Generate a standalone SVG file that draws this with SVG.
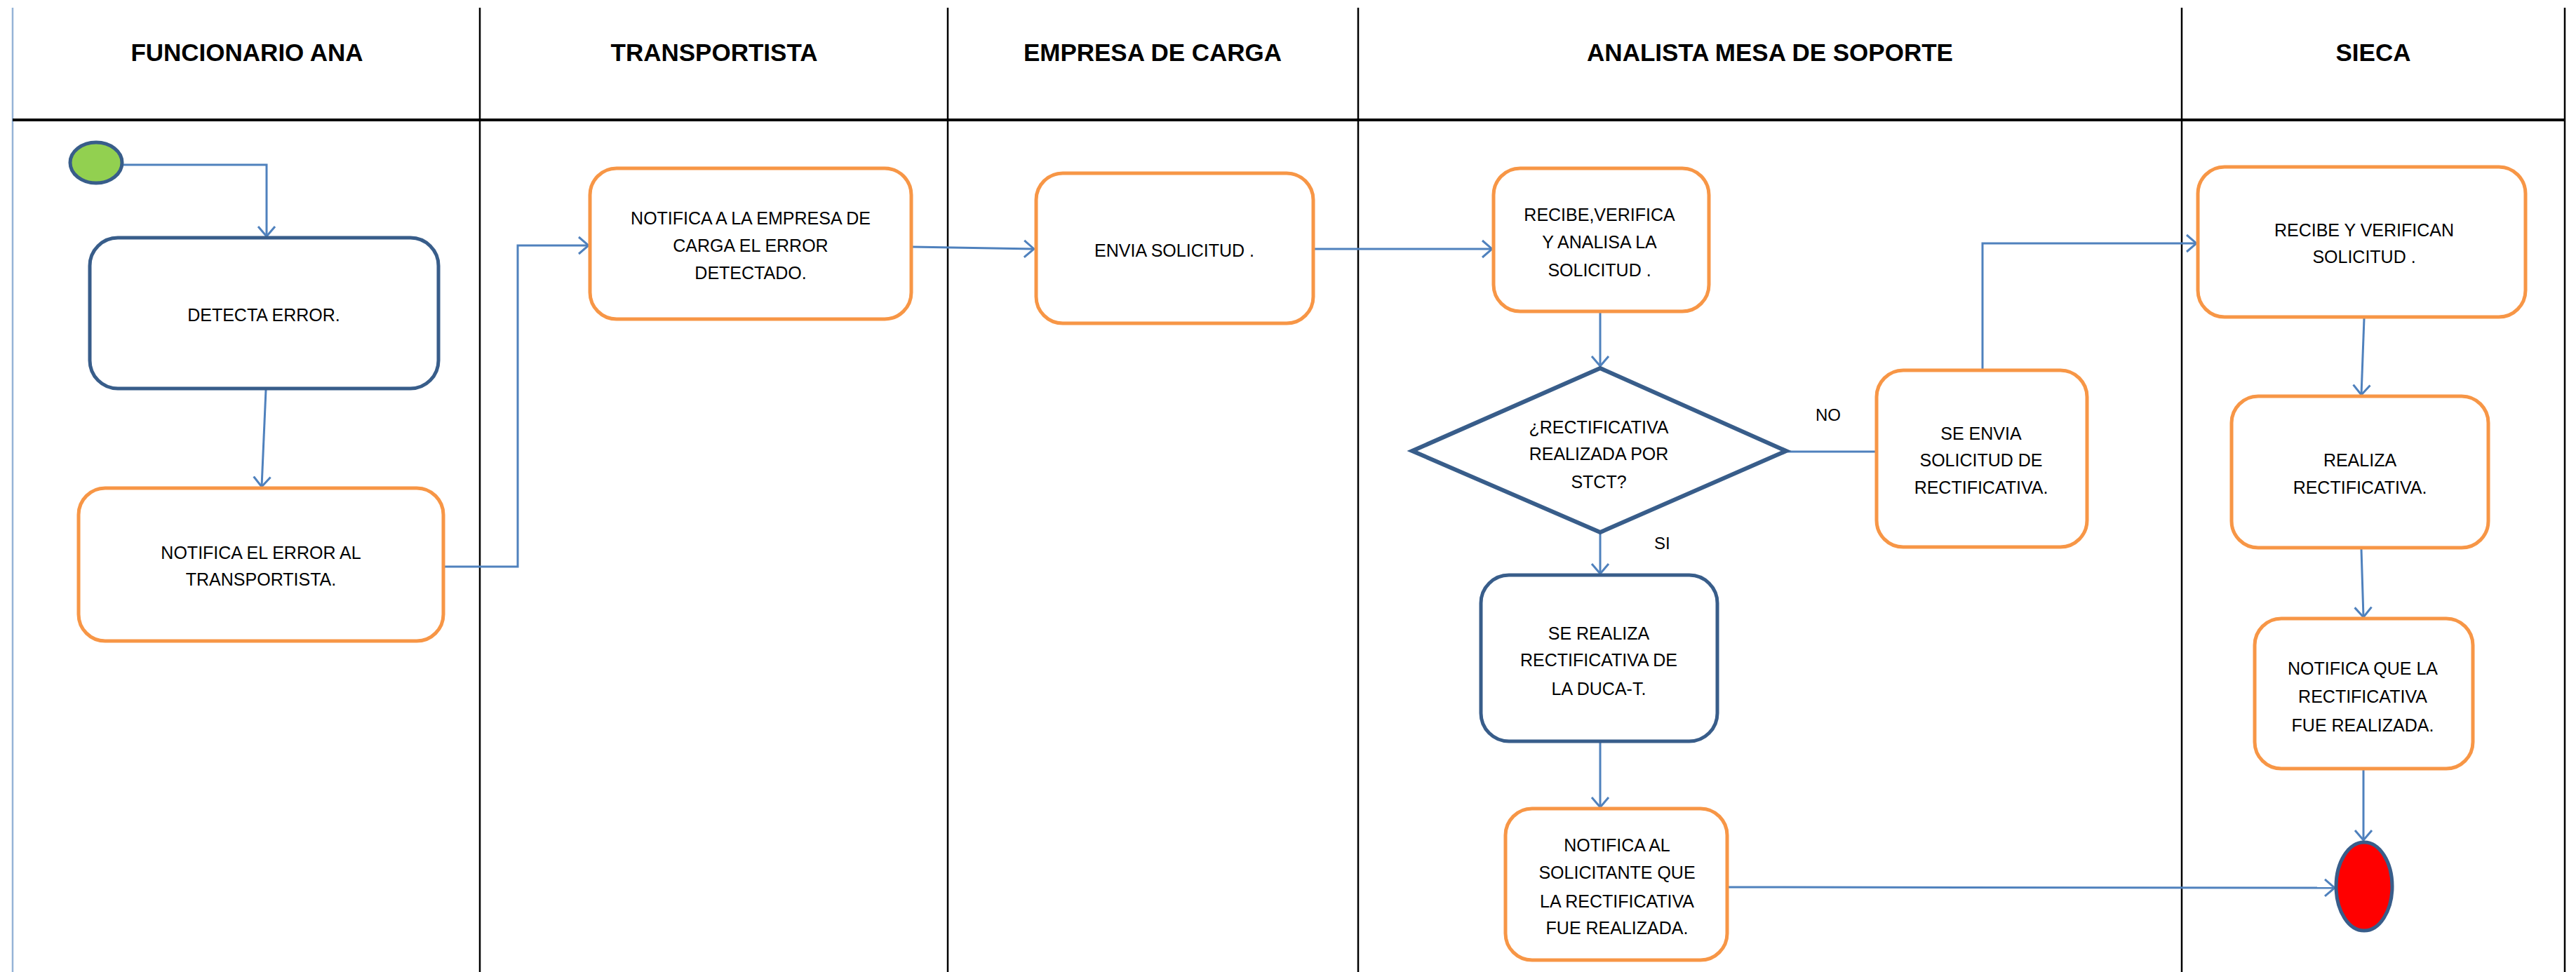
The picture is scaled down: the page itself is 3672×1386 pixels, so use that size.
<svg xmlns="http://www.w3.org/2000/svg" width="3672" height="1386" viewBox="0 0 3672 1386">
<defs>
<style>
.lane{stroke:#000;stroke-width:2.5;fill:none}
.hdr{font-family:"Liberation Sans",Arial,sans-serif;font-weight:bold;font-size:35px;fill:#000;text-anchor:middle}
.txt{font-family:"Liberation Sans",Arial,sans-serif;font-size:25px;fill:#000;text-anchor:middle}
.lbl{font-family:"Liberation Sans",Arial,sans-serif;font-size:24px;fill:#000}
.org{fill:#fff;stroke:#F79646;stroke-width:5}
.nav{fill:#fff;stroke:#385D8A;stroke-width:5}
.con{fill:none;stroke:#4F81BD;stroke-width:3}
</style>
<marker id="arr" viewBox="0 0 16 28" markerWidth="16" markerHeight="28" refX="15" refY="14" orient="auto" markerUnits="userSpaceOnUse">
<path d="M1,2 L15,14 L1,26" fill="none" stroke="#4F81BD" stroke-width="3"/>
</marker>
</defs>
<rect width="3672" height="1386" fill="#fff"/>
<g id="swimlanes">
<line x1="18" y1="11" x2="18" y2="1386" stroke="#95B3D7" stroke-width="2.5"/>
<line class="lane" x1="684" y1="11" x2="684" y2="1386"/>
<line class="lane" x1="1351" y1="11" x2="1351" y2="1386"/>
<line class="lane" x1="1936" y1="11" x2="1936" y2="1386"/>
<line class="lane" x1="3110" y1="11" x2="3110" y2="1386"/>
<line class="lane" x1="3656" y1="11" x2="3656" y2="1386"/>
<line x1="18" y1="171" x2="3656" y2="171" stroke="#000" stroke-width="4"/>
<text class="hdr" x="352" y="87">FUNCIONARIO ANA</text>
<text class="hdr" x="1018" y="87">TRANSPORTISTA</text>
<text class="hdr" x="1643" y="87">EMPRESA DE CARGA</text>
<text class="hdr" x="2523" y="87">ANALISTA MESA DE SOPORTE</text>
<text class="hdr" x="3383" y="87">SIECA</text>
</g>
<g id="connectors">
<path class="con" d="M176,235 H380 V337" marker-end="url(#arr)"/>
<path class="con" d="M379,556 L373,694" marker-end="url(#arr)"/>
<path class="con" d="M634,808 H738 V350 H839" marker-end="url(#arr)"/>
<path class="con" d="M1301,352 L1474,355" marker-end="url(#arr)"/>
<path class="con" d="M1874,355 H2127" marker-end="url(#arr)"/>
<path class="con" d="M2281,446 V522" marker-end="url(#arr)"/>
<path class="con" d="M2548,644 H2673"/>
<path class="con" d="M2826,526 V347 H3131" marker-end="url(#arr)"/>
<path class="con" d="M3370,454 L3366,563" marker-end="url(#arr)"/>
<path class="con" d="M3366,783 L3369,880" marker-end="url(#arr)"/>
<path class="con" d="M3369,1098 V1198" marker-end="url(#arr)"/>
<path class="con" d="M2281,761 V818" marker-end="url(#arr)"/>
<path class="con" d="M2281,1059 V1151" marker-end="url(#arr)"/>
<path class="con" d="M2464,1265 L3328,1266" marker-end="url(#arr)"/>
<text class="lbl" x="2588" y="600">NO</text>
<text class="lbl" x="2358" y="783">SI</text>
</g>
<g id="start">
<ellipse cx="137" cy="232" rx="37" ry="29" fill="#92D050" stroke="#385D8A" stroke-width="5"/>
</g>
<g id="detecta">
<rect class="nav" x="128" y="339" width="497" height="215" rx="40"/>
<text class="txt" x="376" y="458">DETECTA ERROR.</text>
</g>
<g id="notifica-transportista">
<rect class="org" x="112" y="696" width="520" height="218" rx="38"/>
<text class="txt" x="372" y="797">NOTIFICA EL ERROR AL</text>
<text class="txt" x="372" y="835">TRANSPORTISTA.</text>
</g>
<g id="notifica-empresa">
<rect class="org" x="841" y="240" width="458" height="215" rx="38"/>
<text class="txt" x="1070" y="320">NOTIFICA A LA EMPRESA DE</text>
<text class="txt" x="1070" y="359">CARGA  EL ERROR</text>
<text class="txt" x="1070" y="398">DETECTADO.</text>
</g>
<g id="envia">
<rect class="org" x="1477" y="247" width="395" height="214" rx="38"/>
<text class="txt" x="1674" y="366">ENVIA SOLICITUD .</text>
</g>
<g id="recibe-verifica">
<rect class="org" x="2129" y="240" width="307" height="204" rx="38"/>
<text class="txt" x="2280" y="315">RECIBE,VERIFICA</text>
<text class="txt" x="2280" y="354">Y ANALISA LA</text>
<text class="txt" x="2280" y="394">SOLICITUD .</text>
</g>
<g id="decision">
<polygon points="2281,525 2546,643 2281,759 2013,643" fill="#fff" stroke="#385D8A" stroke-width="6"/>
<text class="txt" x="2279" y="618">¿RECTIFICATIVA</text>
<text class="txt" x="2279" y="656">REALIZADA POR</text>
<text class="txt" x="2279" y="696">STCT?</text>
</g>
<g id="se-envia">
<rect class="org" x="2675" y="528" width="300" height="252" rx="38"/>
<text class="txt" x="2824" y="627">SE ENVIA</text>
<text class="txt" x="2824" y="665">SOLICITUD DE</text>
<text class="txt" x="2824" y="704">RECTIFICATIVA.</text>
</g>
<g id="se-realiza">
<rect class="nav" x="2111" y="820" width="337" height="237" rx="40"/>
<text class="txt" x="2279" y="912">SE REALIZA</text>
<text class="txt" x="2279" y="950">RECTIFICATIVA DE</text>
<text class="txt" x="2279" y="991">LA DUCA-T.</text>
</g>
<g id="notifica-solicitante">
<rect class="org" x="2146" y="1153" width="316" height="216" rx="38"/>
<text class="txt" x="2305" y="1214">NOTIFICA AL</text>
<text class="txt" x="2305" y="1253">SOLICITANTE QUE</text>
<text class="txt" x="2305" y="1294">LA RECTIFICATIVA</text>
<text class="txt" x="2305" y="1332">FUE REALIZADA.</text>
</g>
<g id="recibe-verifican">
<rect class="org" x="3133" y="238" width="467" height="214" rx="38"/>
<text class="txt" x="3370" y="337">RECIBE Y VERIFICAN</text>
<text class="txt" x="3370" y="375">SOLICITUD .</text>
</g>
<g id="realiza">
<rect class="org" x="3181" y="565" width="366" height="216" rx="38"/>
<text class="txt" x="3364" y="665">REALIZA</text>
<text class="txt" x="3364" y="704">RECTIFICATIVA.</text>
</g>
<g id="notifica-que">
<rect class="org" x="3214" y="882" width="311" height="214" rx="38"/>
<text class="txt" x="3368" y="962">NOTIFICA QUE LA</text>
<text class="txt" x="3368" y="1002">RECTIFICATIVA</text>
<text class="txt" x="3368" y="1043">FUE REALIZADA.</text>
</g>
<g id="end">
<ellipse cx="3370" cy="1264" rx="40" ry="63" fill="#FF0000" stroke="#385D8A" stroke-width="5"/>
</g>
</svg>
